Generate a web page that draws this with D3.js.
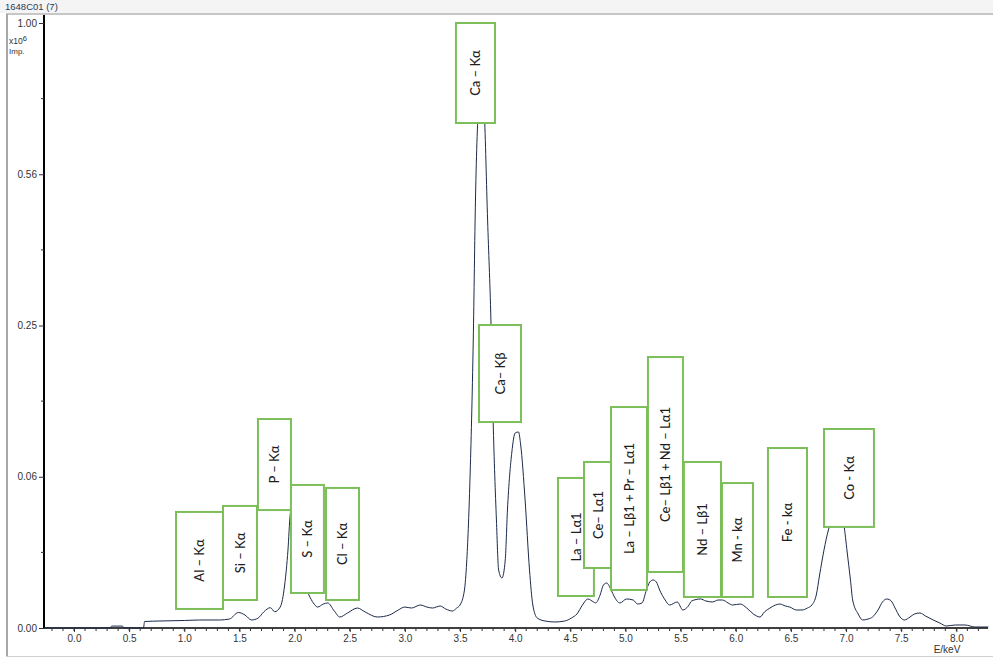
<!DOCTYPE html>
<html><head><meta charset="utf-8">
<script src="https://cdn.jsdelivr.net/npm/d3@7"></script>
<style>
html,body{margin:0;padding:0;background:#fff;}
svg{display:block;}
</style></head>
<body>
<script>
// ---- data ----
const title = "1648C01 (7)";
const energy = [-0.27,0.33,0.34,0.44,0.45,0.63,0.64,0.78,1.00,1.14,1.32,1.41,1.49,1.55,1.61,1.67,1.72,1.78,1.82,1.87,1.91,1.94,1.96,1.99,2.02,2.06,2.09,2.13,2.17,2.21,2.26,2.30,2.36,2.41,2.48,2.57,2.64,2.75,2.86,2.94,3.00,3.06,3.14,3.20,3.25,3.32,3.37,3.43,3.47,3.50,3.54,3.56,3.59,3.62,3.64,3.67,3.70,3.72,3.75,3.78,3.80,3.83,3.85,3.88,3.91,3.93,3.97,4.00,4.03,4.05,4.09,4.13,4.16,4.20,4.27,4.36,4.45,4.51,4.56,4.61,4.66,4.71,4.73,4.77,4.80,4.83,4.87,4.90,4.95,5.01,5.07,5.11,5.15,5.19,5.22,5.25,5.28,5.31,5.36,5.40,5.47,5.52,5.57,5.60,5.68,5.73,5.79,5.84,5.88,5.93,5.97,6.04,6.10,6.16,6.22,6.26,6.31,6.36,6.40,6.45,6.49,6.55,6.60,6.65,6.69,6.73,6.76,6.80,6.84,6.87,6.91,6.94,6.98,7.01,7.04,7.06,7.11,7.15,7.20,7.24,7.29,7.33,7.37,7.41,7.44,7.49,7.53,7.58,7.62,7.67,7.72,7.79,7.85,7.91,7.99,8.08,8.17,8.29];
const counts = [0,0,0.00001,0.00001,0,0,0.000115,0.000134,0.000154,0.000175,0.000175,0.000221,0.000656,0.000462,0.000175,0.000273,0.0007,0.001126,0.000726,0.001205,0.00505,0.01662,0.0349,0.0448,0.0319,0.01264,0.00505,0.00298,0.00171,0.0012,0.00157,0.00171,0.00079,0.00033,0.000615,0.00109,0.0007,0.00033,0.00046,0.000885,0.0012,0.00109,0.001445,0.0012,0.00109,0.00132,0.00099,0.00079,0.00109,0.001445,0.00394,0.01154,0.0598,0.2266,0.5005,0.7617,0.8507,0.733,0.4548,0.2592,0.1182,0.03187,0.00919,0.00683,0.01264,0.03804,0.08463,0.1039,0.105,0.0915,0.0448,0.00919,0.001445,0.000273,0.000134,0.0000984,0.000134,0.000273,0.000535,0.001445,0.0023,0.00185,0.00171,0.00298,0.00505,0.00553,0.00394,0.00263,0.00171,0.0023,0.00214,0.00157,0.00171,0.00394,0.00578,0.0063,0.00578,0.00394,0.00214,0.001445,0.00185,0.000885,0.00132,0.00199,0.0023,0.00199,0.00185,0.00214,0.00214,0.00171,0.001445,0.00157,0.00109,0.000535,0.00033,0.0007,0.00109,0.001445,0.00157,0.00132,0.0012,0.000885,0.000885,0.00109,0.001445,0.00298,0.00767,0.01662,0.02624,0.0319,0.0355,0.0361,0.029,0.01578,0.0063,0.00214,0.000535,0.000175,0.000221,0.00033,0.000885,0.00185,0.0023,0.00199,0.0012,0.00033,0.000175,0.00033,0.000535,0.000615,0.000393,0.000175,0.0000683,0.0000109,0.0000246,0.0000246,0.0000027,0.0000027];
const xTickLabels = ["0.0","0.5","1.0","1.5","2.0","2.5","3.0","3.5","4.0","4.5","5.0","5.5","6.0","6.5","7.0","7.5","8.0"];
const yTickValues = [0, 0.0625, 0.25, 0.5625, 1.0];
const yTickLabels = ["0.00","0.06","0.25","0.56","1.00"];
const yMinorTicks = [0.015625, 0.140625, 0.390625, 0.765625];
// peak annotations (keV extents, intensity extents in 10^6 Imp.)
const peakLabels = ["Al – Kα","Si – Kα","P – Kα","S – Kα","Cl – Kα","Ca – Kα","Ca– Kβ","La – Lα1","Ce– Lα1","La – Lβ1 + Pr – Lα1","Ce– Lβ1 + Nd – Lα1","Nd – Lβ1","Mn - kα","Fe - kα","Co - Kα"];
const peakLeft   = [0.925,1.351,1.668,1.967,2.285,3.463,3.672,4.388,4.624,4.869,5.204,5.530,5.875,6.292,6.800];
const peakRight  = [1.351,1.659,1.967,2.266,2.584,3.817,4.053,4.714,4.878,5.195,5.521,5.866,6.156,6.646,7.253];
const peakTop    = [0.0368,0.0407,0.1193,0.0559,0.0536,1.0,0.2508,0.0615,0.0753,0.1334,0.2006,0.0753,0.0574,0.0885,0.1082];
const peakBottom = [0.00099,0.00214,0.0380,0.00335,0.00214,0.6967,0.1159,0.0028,0.00984,0.00395,0.00857,0.00263,0.00263,0.00263,0.0279];

// ---- layout ----
const W = 993, H = 658;
const svg = d3.select("body").append("svg").attr("width", W).attr("height", H);

// frame
svg.append("rect").attr("x",0).attr("y",0).attr("width",W).attr("height",13).attr("fill","#f4f4f4");
svg.append("text").attr("x",5).attr("y",10).attr("font-family","Liberation Sans, Arial, sans-serif")
  .attr("font-size",9.5).attr("fill","#2a3a5a").text(title);
svg.append("line").attr("x1",6).attr("x2",W).attr("y1",14).attr("y2",14).attr("stroke","#b4b4b4").attr("stroke-width",1.5);
svg.append("line").attr("x1",7).attr("x2",7).attr("y1",14).attr("y2",656).attr("stroke","#a8a8a8").attr("stroke-width",2);
svg.append("line").attr("x1",6).attr("x2",W).attr("y1",656.5).attr("y2",656.5).attr("stroke","#d0d0d0").attr("stroke-width",1);

const x = d3.scaleLinear().domain([-0.272, 8.287]).range([44, 988]);
const y = d3.scaleSqrt().domain([0, 1]).range([628, 23]);

const fontAx = "Liberation Sans, Arial, sans-serif";

// y axis
const yAxis = d3.axisLeft(y).tickValues(yTickValues).tickFormat((d,i)=>yTickLabels[i]).tickSize(5).tickPadding(2);
const gy = svg.append("g").attr("transform","translate(44,0)").call(yAxis);
gy.select(".domain").attr("d","M0,15V628").attr("stroke","#000").attr("stroke-width",2);
gy.selectAll("text").attr("font-family",fontAx).attr("font-size",10).attr("fill","#333");
gy.selectAll(".tick line").attr("stroke","#333");
gy.selectAll(".minor").data(yMinorTicks).enter().append("line")
  .attr("x1",-3).attr("x2",0).attr("y1",d=>y(d)).attr("y2",d=>y(d)).attr("stroke","#333");
svg.append("text").attr("x",9).attr("y",44).attr("font-family",fontAx).attr("font-size",8.5).attr("fill","#333")
  .text("x10").append("tspan").attr("dy",-3).attr("font-size",7.5).text("6");
svg.append("text").attr("x",9).attr("y",54).attr("font-family",fontAx).attr("font-size",8).attr("fill","#333").text("Imp.");

// x axis
const xMajor = xTickLabels.map(s=>+s);
const xMinor = d3.range(-2, 83).map(i=>i/10).filter(v=>x(v)>=44 && x(v)<=988);
const xAxis = d3.axisBottom(x).tickValues(xMajor).tickFormat((d,i)=>xTickLabels[i]).tickSize(4).tickPadding(3);
const gx = svg.append("g").attr("transform","translate(0,628)").call(xAxis);
gx.select(".domain").attr("d","M44,0H988").attr("stroke","#000").attr("stroke-width",1.5);
gx.selectAll("text").attr("font-family",fontAx).attr("font-size",10).attr("fill","#333");
gx.selectAll(".tick line").attr("stroke","#333");
gx.selectAll(".minor").data(xMinor).enter().append("line")
  .attr("x1",d=>x(d)).attr("x2",d=>x(d)).attr("y1",0).attr("y2",3).attr("stroke","#333");
svg.append("text").attr("x",947).attr("y",653).attr("text-anchor","middle").attr("font-family",fontAx)
  .attr("font-size",10).attr("fill","#333").text("E/keV");

// spectrum
const pts = energy.map((e,i)=>[e, counts[i]]);
const line = d3.line().x(d=>x(d[0])).y(d=>y(d[1])).curve(d3.curveMonotoneX);
svg.append("path").datum(pts).attr("d",line).attr("fill","none").attr("stroke","#1c2b4a").attr("stroke-width",1);

// annotation boxes
const ann = svg.append("g");
peakLabels.forEach((lab,i)=>{
  const x0 = x(peakLeft[i]), x1 = x(peakRight[i]);
  const y0 = y(peakTop[i]), y1 = y(peakBottom[i]);
  const g = ann.append("g");
  g.append("rect").attr("x",x0).attr("y",y0).attr("width",x1-x0).attr("height",y1-y0)
    .attr("fill","#fff").attr("stroke","#7cbf5a").attr("stroke-width",2);
  const cx = (x0+x1)/2, cy = (y0+y1)/2;
  g.append("text").attr("transform",`translate(${cx},${cy}) rotate(-90)`)
    .attr("text-anchor","middle").attr("dy","0.35em")
    .attr("font-family","Lato, 'Open Sans', sans-serif").attr("font-size",13).attr("font-weight",500)
    .attr("fill","#1e1e1e").text(lab);
});
</script>
</body></html>
